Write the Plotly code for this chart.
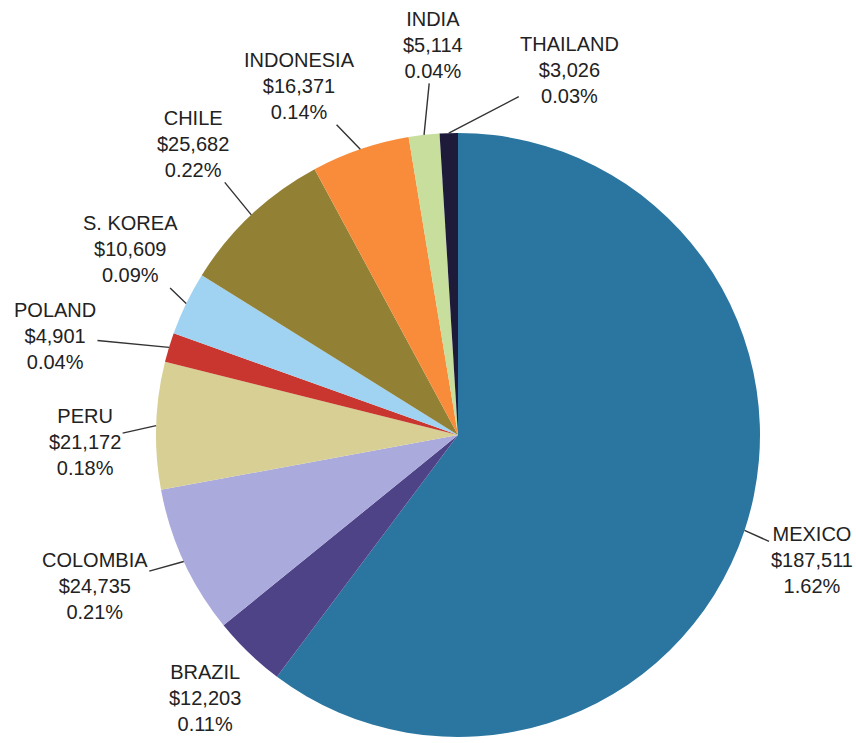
import math
import plotly.graph_objects as go

# data
countries = ["MEXICO", "BRAZIL", "COLOMBIA", "PERU", "POLAND",
             "S. KOREA", "CHILE", "INDONESIA", "INDIA", "THAILAND"]
amounts = [187511, 12203, 24735, 21172, 4901, 10609, 25682, 16371, 5114, 3026]
shares = ["1.62%", "0.11%", "0.21%", "0.18%", "0.04%",
          "0.09%", "0.22%", "0.14%", "0.04%", "0.03%"]

colors = ["#2B76A0", "#4F4388", "#AAAADD", "#D7CF93", "#C8362F",
          "#9FD3F1", "#928035", "#F88C3B", "#C7DE9C", "#1E1A3A"]

# label offsets (px) from the slice edge, and whether a leader line is drawn
label_offsets = [(67, 30), (-44, 45), (-89, 25), (-71, 16), (-114, -11),
                 (-56, -54), (-58, -71), (-61, -63), (9, -90), (121, -63)]
leader = [True, False, True, True, True, True, True, True, True, True]

W, H = 856, 743
cx, cy, r = 458, 435, 302
dom_x = [(cx - r) / W, (cx + r) / W]
dom_y = [1 - (cy + r) / H, 1 - (cy - r) / H]

fig = go.Figure(go.Pie(
    labels=countries, values=amounts,
    sort=False, direction="clockwise", rotation=0,
    marker=dict(colors=colors, line=dict(width=0)),
    textinfo="none", showlegend=False,
    domain=dict(x=dom_x, y=dom_y),
))

total = sum(amounts)
start = 0.0
for name, amt, pct, (ox, oy), show in zip(countries, amounts, shares, label_offsets, leader):
    sweep = amt / total * 360
    mid = math.radians(start + sweep / 2)
    start += sweep
    px_x = cx + r * math.sin(mid)
    px_y = cy - r * math.cos(mid)
    fig.add_annotation(
        x=px_x / W, y=1 - px_y / H, xref="paper", yref="paper",
        ax=ox, ay=oy, showarrow=True, arrowhead=0,
        arrowwidth=1.4 if show else 0.1,
        arrowcolor="#333333" if show else "rgba(0,0,0,0)",
        text=f"{name}<br>${amt:,}<br>{pct}",
        align="center",
        font=dict(family="Liberation Sans Narrow, Arial Narrow, Liberation Sans, sans-serif",
                  size=20, color="#222222"),
    )

fig.update_layout(
    width=W, height=H,
    margin=dict(l=0, r=0, t=0, b=0),
    paper_bgcolor="white", plot_bgcolor="white",
)

fig.write_html("out.html", config={"displayModeBar": False},
               post_script="document.body.style.margin='0';")
